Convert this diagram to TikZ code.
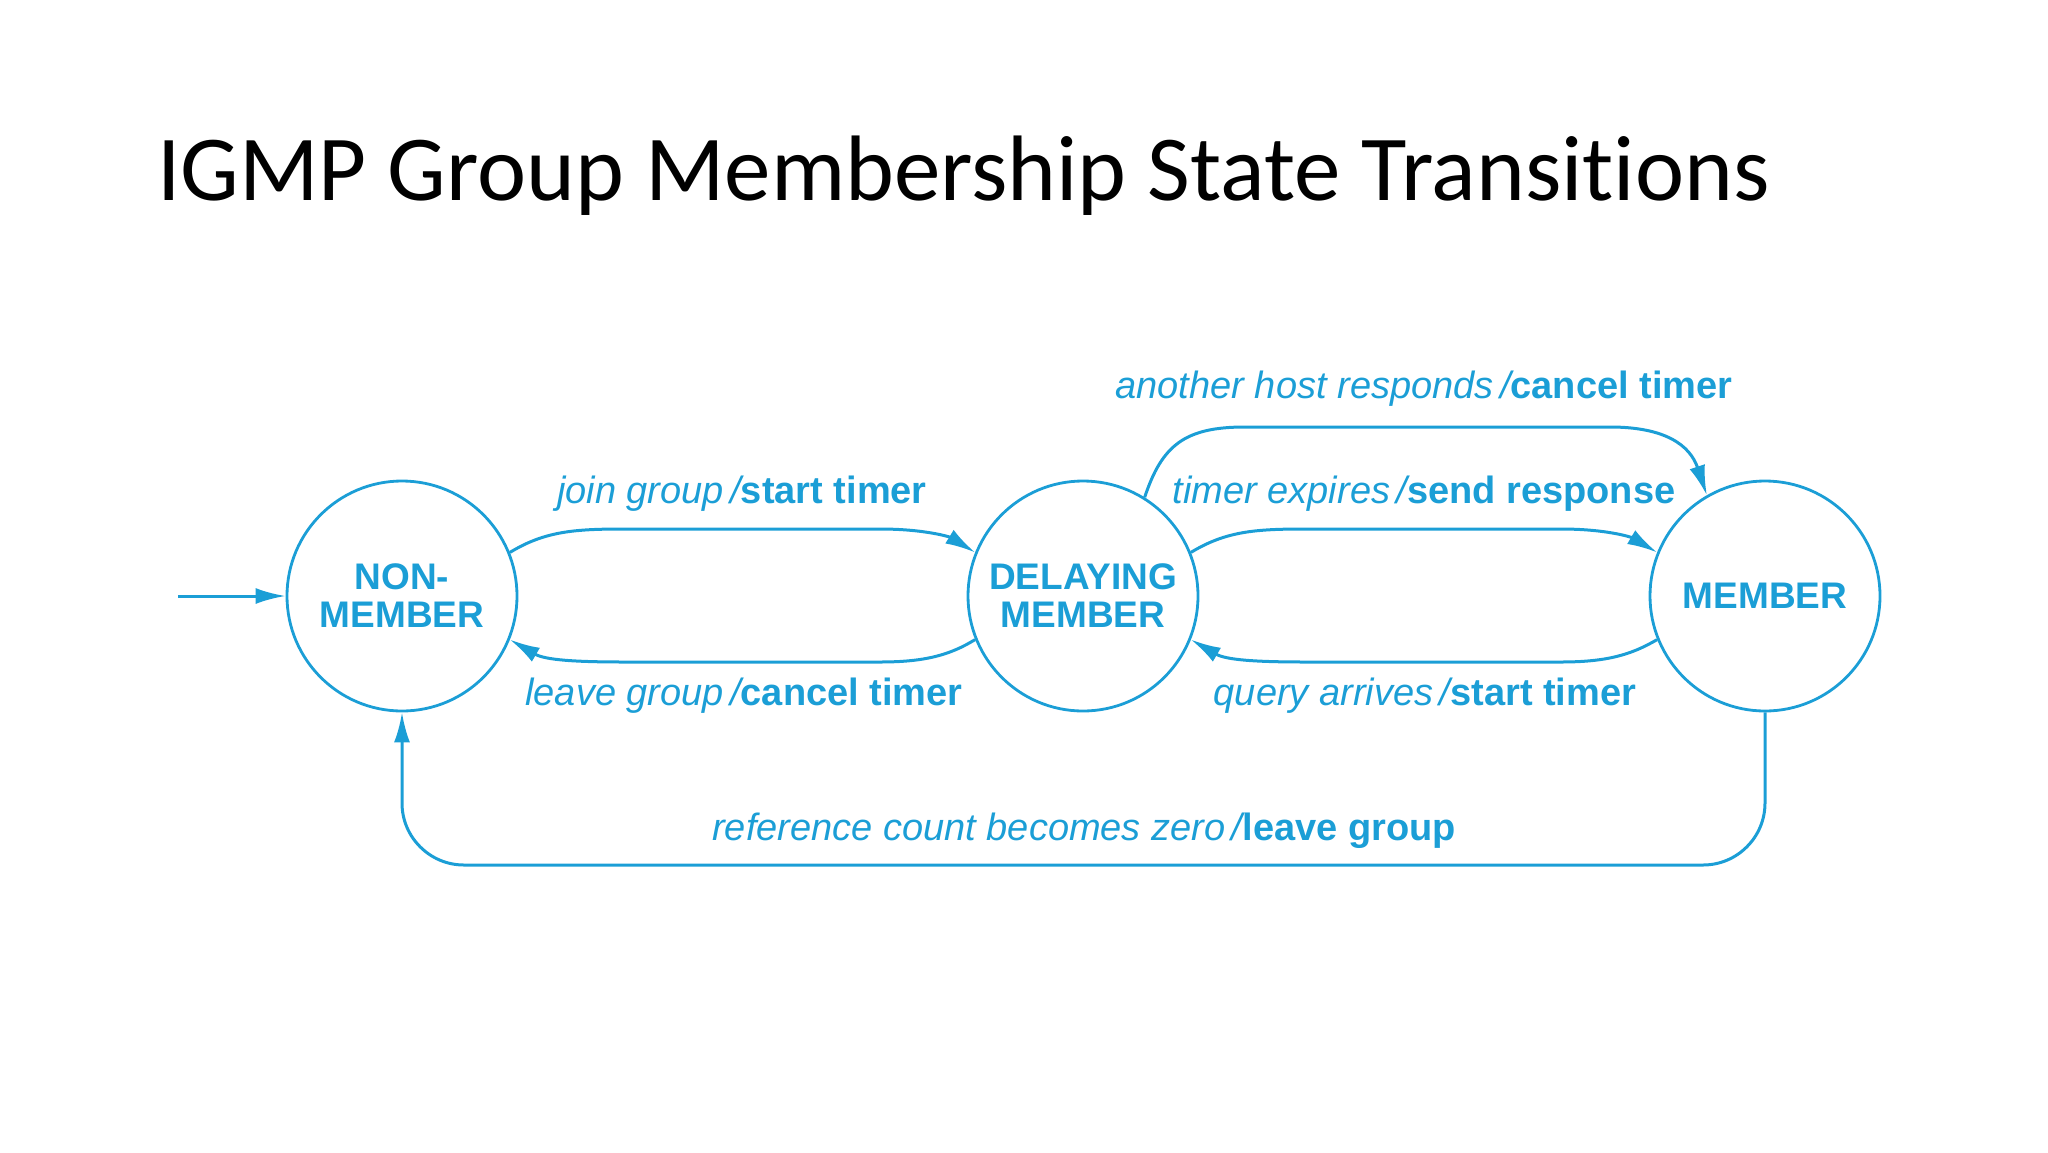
\documentclass[tikz,border=0pt]{standalone}
\usepackage{fontspec}
\setmainfont{Carlito}[Ligatures=NoCommon]
\newfontfamily\lblfont{Liberation Sans}
\usetikzlibrary{arrows.meta}
\definecolor{igmp}{RGB}{27,158,214}
\begin{document}
\begin{tikzpicture}[x=1pt,y=-1pt,
  state/.style={circle,draw=igmp,line width=2.8pt,minimum size=230pt,inner sep=0pt,
    align=center,text=igmp,font=\lblfont\bfseries\fontsize{37}{38}\selectfont},
  trans/.style={draw=igmp,line width=3pt,-{Latex[length=30pt,width=16pt]}},
  lbl/.style={text=igmp,font=\lblfont\fontsize{38}{40}\selectfont,inner sep=0pt}]
\useasboundingbox (0,0) rectangle (2048,1152);
\node[anchor=base west,inner sep=0pt,font=\fontsize{93}{110}\selectfont] (title) at (157,200) {IGMP Group Membership State Transitions};
\node[state] (nm) at (402,596) {NON-\\MEMBER};
\node[state] (dm) at (1083,596) {DELAYING\\MEMBER};
\node[state] (m) at (1765,596) {MEMBER};
\coordinate (start) at (178,596);
\coordinate (bot) at (0,865);
\draw[trans] (start) -- (nm.west);
\draw[trans] (nm.22) .. controls (545,531) and (575,529) .. (625,529) -- (880,529) .. controls (925,529) and (950,537) .. (dm.158);
\draw[trans] (dm.202) .. controls (950,655) and (925,662) .. (880,662) -- (625,662) .. controls (575,662) and (545,660) .. (nm.338);
\draw[trans] (dm.22) .. controls (1226,531) and (1256,529) .. (1306,529) -- (1561,529) .. controls (1606,529) and (1631,537) .. (m.158);
\draw[trans] (m.202) .. controls (1631,655) and (1606,662) .. (1561,662) -- (1306,662) .. controls (1256,662) and (1226,660) .. (dm.338);
\draw[trans] (dm.58) .. controls (1162,445) and (1185,427) .. (1245,427) -- (1610,427) .. controls (1665,427) and (1690,445) .. (m.120);
\draw[trans,rounded corners=62pt] (m.south) -- (m.south |- bot) -- (nm.south |- bot) -- (nm.south);
\node[lbl] (l1) at (742,494) {\itshape join group\,/\upshape\bfseries start timer};
\node[lbl] (l2) at (744,696) {\itshape leave group\,/\upshape\bfseries cancel timer};
\node[lbl] (l3) at (1424,389) {\itshape another host responds\,/\upshape\bfseries cancel timer};
\node[lbl] (l4) at (1424,494) {\itshape timer expires\,/\upshape\bfseries send response};
\node[lbl] (l5) at (1425,696) {\itshape query arrives\,/\upshape\bfseries start timer};
\node[lbl] (l6) at (1084,831) {\itshape reference count becomes zero\,/\upshape\bfseries leave group};
\end{tikzpicture}
\end{document}
